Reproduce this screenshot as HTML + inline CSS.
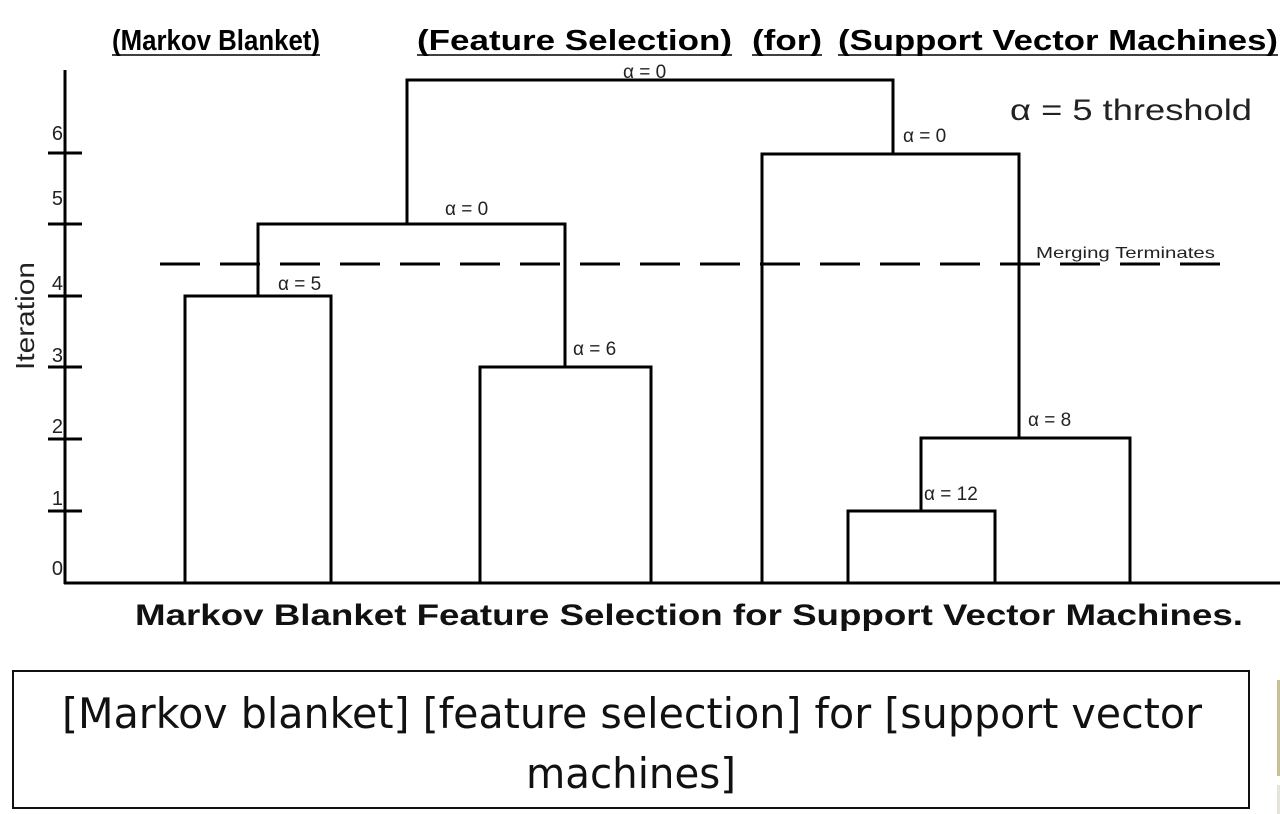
<!DOCTYPE html>
<html><head><style>
body{margin:0;width:1280px;height:814px;background:#fff;overflow:hidden;position:relative;font-family:"Liberation Sans",sans-serif}
</style></head><body>
<svg width="1280" height="814" style="position:absolute;left:0;top:0" font-family="Liberation Sans, sans-serif">
<g font-weight="bold" font-size="29" fill="#000">
<text x="112" y="50" textLength="208" lengthAdjust="spacingAndGlyphs">(Markov Blanket)</text>
<text x="417" y="50" textLength="315" lengthAdjust="spacingAndGlyphs">(Feature Selection)</text>
<text x="752" y="50" textLength="70" lengthAdjust="spacingAndGlyphs">(for)</text>
<text x="838" y="50" textLength="440" lengthAdjust="spacingAndGlyphs">(Support Vector Machines)</text>
</g>
<g stroke="#000" stroke-width="1.5">
<line x1="112" y1="55" x2="320" y2="55"/><line x1="417" y1="55" x2="732" y2="55"/><line x1="752" y1="55" x2="822" y2="55"/><line x1="838" y1="55" x2="1278" y2="55"/>
</g>
<g stroke="#000" stroke-width="3" fill="none">
<line x1="65" y1="70" x2="65" y2="584"/>
<line x1="64" y1="583" x2="1280" y2="583"/>
<line x1="48" y1="153" x2="82" y2="153"/><line x1="48" y1="224" x2="82" y2="224"/><line x1="48" y1="296" x2="82" y2="296"/><line x1="48" y1="367" x2="82" y2="367"/><line x1="48" y1="439" x2="82" y2="439"/><line x1="48" y1="511" x2="82" y2="511"/>
<polyline points="185,583 185,296 331,296 331,583"/>
<polyline points="480,583 480,367 651,367 651,583"/>
<polyline points="258,296 258,224 565,224 565,367"/>
<polyline points="407,224 407,80 893,80 893,154"/>
<polyline points="762,583 762,154 1019,154 1019,438"/>
<polyline points="921,511 921,438 1130,438 1130,583"/>
<polyline points="848,583 848,511 995,511 995,583"/>
<line x1="160" y1="264" x2="1237" y2="264" stroke-dasharray="40,20"/>
</g>
<g font-size="20" fill="#222">
<text x="63" y="140" text-anchor="end">6</text>
<text x="63" y="205" text-anchor="end">5</text>
<text x="63" y="290" text-anchor="end">4</text>
<text x="63" y="362" text-anchor="end">3</text>
<text x="63" y="433" text-anchor="end">2</text>
<text x="63" y="505" text-anchor="end">1</text>
<text x="63" y="575" text-anchor="end">0</text>
<text transform="translate(34,316) rotate(-90)" text-anchor="middle" font-size="26" textLength="108" lengthAdjust="spacingAndGlyphs">Iteration</text>
</g>
<g font-size="19" fill="#222">
<text x="623" y="78">α = 0</text>
<text x="903" y="142">α = 0</text>
<text x="445" y="215">α = 0</text>
<text x="278" y="290">α = 5</text>
<text x="573" y="355">α = 6</text>
<text x="1028" y="426">α = 8</text>
<text x="924" y="500">α = 12</text>
<text x="1036" y="258" font-size="16" textLength="179" lengthAdjust="spacingAndGlyphs">Merging Terminates</text>
<text x="1010" y="120" font-size="30" textLength="242" lengthAdjust="spacingAndGlyphs">α = 5 threshold</text>
</g>
<text x="135" y="625" font-weight="bold" font-size="30" fill="#111" textLength="1108" lengthAdjust="spacingAndGlyphs">Markov Blanket Feature Selection for Support Vector Machines.</text>
<rect x="13" y="671" width="1236" height="137" fill="none" stroke="#111" stroke-width="2"/>
<g font-family="DejaVu Sans, Liberation Sans, sans-serif" font-size="42" fill="#111">
<text x="62" y="728" textLength="1140" lengthAdjust="spacingAndGlyphs">[Markov blanket] [feature selection] for [support vector</text>
<text x="631" y="788" text-anchor="middle" textLength="210" lengthAdjust="spacingAndGlyphs">machines]</text>
</g>
<rect x="1277" y="680" width="3" height="96" fill="#c8c096"/>
<rect x="1277" y="785" width="3" height="29" fill="#e6e4da"/>
</svg>
</body></html>
